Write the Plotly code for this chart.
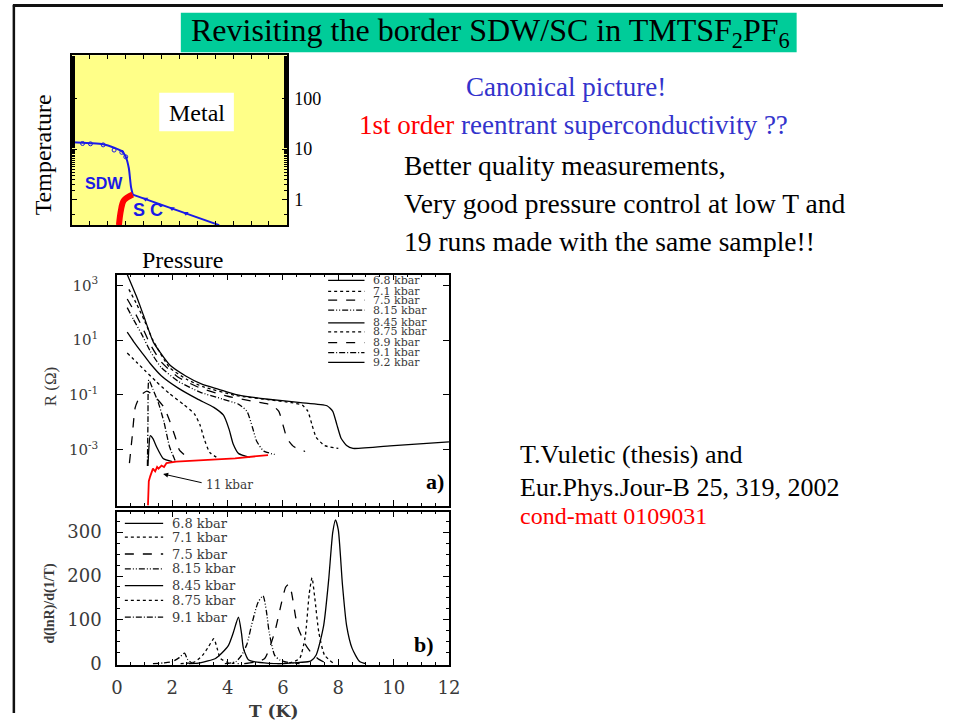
import plotly.graph_objects as go

W, H = 954, 722


def px(x):
    return x / W


def py(y):
    return 1 - y / H


SERIF = "Liberation Serif"
WIDE = "DejaVu Serif"
SANS = "Liberation Sans"
BLUE = "#1a1ae6"
TXT_BLUE = "#3333cc"
GREY = "#3a3a3a"

# ---------------- phase diagram (inset) ----------------
sdw_pts_P = [0, 0.6, 1.04, 1.75, 2.36, 2.79, 3.01]
sdw_pts_T = [13.5, 12.9, 12.7, 12.1, 9.55, 8.6, 7.0]
sdw_line_P = [0, 0.6, 1.04, 1.75, 2.36, 2.79, 3.01, 3.18, 3.3, 3.4]
sdw_line_T = [13.7, 13.4, 13.1, 12.4, 10.6, 9.0, 7.0, 4.2, 1.8, 1.25]
border_P = [3.4, 8.22]
border_T = [1.25, 0.31]
tri_P = [4.11, 5.59, 6.36]
tri_T = [1.02, 0.66, 0.53]
sc_P = [3.4, 2.9, 2.74, 2.63]
sc_T = [1.25, 0.955, 0.61, 0.31]

# ---------------- panel a: R(T) ----------------
pressures_a = ["6.8 kbar", "7.1 kbar", "7.5 kbar", "8.15 kbar", "8.45 kbar",
               "8.75 kbar", "8.9 kbar", "9.1 kbar", "9.2 kbar"]
dash_a = ["solid", "dot", "dash", "6px,2px,1px,2px,1px,2px", "solid",
          "dot", "dash", "6px,2px,1px,2px", "solid"]

T_68 = [0.37, 0.72, 0.96, 1.31, 1.9, 2.5, 3.09, 3.68, 4.27, 4.86, 5.46, 6.64, 7.59, 7.8, 7.95, 8.1, 8.3, 8.53, 10.0, 12.0]
R_68 = [2.5e3, 3.6e2, 8.0e1, 8.7e0, 1.26e0, 4.8e-1, 2.4e-1, 1.6e-1, 1.05e-1, 8.3e-2, 6.9e-2, 5.2e-2, 4.0e-2, 2.5e-2, 8e-3, 2.6e-3, 1.4e-3, 1.1e-3, 1.4e-3, 1.9e-3]
T_71 = [0.43, 0.7, 1.0, 1.3, 1.9, 2.5, 3.1, 4.3, 5.5, 6.3, 6.7, 6.9, 7.05, 7.2, 7.5, 8.0]
R_71 = [7.2e2, 2.2e2, 5.0e1, 1.0e1, 1.0e0, 3.8e-1, 2.0e-1, 9.5e-2, 6.6e-2, 5.2e-2, 4.2e-2, 2.5e-2, 8e-3, 2.8e-3, 1.4e-3, 1.1e-3]
T_75 = [0.37, 0.6, 0.9, 1.2, 1.6, 2.2, 3.0, 4.0, 5.0, 5.6, 5.85, 6.0, 6.15, 6.4, 6.8]
R_75 = [3.2e2, 1.26e2, 3.2e1, 7.1e0, 1.6e0, 4.5e-1, 1.8e-1, 8.9e-2, 5.6e-2, 4.2e-2, 2.5e-2, 8e-3, 2.5e-3, 1.26e-3, 8.5e-4]
T_815 = [0.37, 0.6, 0.9, 1.2, 1.6, 2.2, 3.0, 3.8, 4.4, 4.7, 4.9, 5.05, 5.3, 5.7]
R_815 = [1.55e2, 5.6e1, 1.6e1, 4.0e0, 1.0e0, 3.2e-1, 1.26e-1, 7.1e-2, 4.5e-2, 2.5e-2, 6.3e-3, 2.0e-3, 8.9e-4, 6.6e-4]
T_845 = [0.37, 0.6, 0.9, 1.2, 1.6, 2.2, 2.9, 3.5, 3.85, 4.05, 4.2, 4.4, 4.8]
R_845 = [1.95e1, 8.9e0, 3.5e0, 1.4e0, 5.0e-1, 1.8e-1, 7.1e-2, 3.5e-2, 1.8e-2, 5.6e-3, 1.6e-3, 7.1e-4, 5.2e-4]
T_875 = [0.37, 0.7, 1.0, 1.4, 1.9, 2.4, 2.8, 3.0, 3.15, 3.35, 3.7]
R_875 = [3.4e0, 1.6e0, 7.9e-1, 3.2e-1, 1.1e-1, 4.5e-2, 2.0e-2, 8.0e-3, 2.5e-3, 7.9e-4, 4.5e-4]
T_89 = [0.45, 0.55, 0.66, 0.84, 1.08, 1.4, 1.7, 1.9, 2.1, 2.26, 2.6]
R_89 = [3.2e-4, 3e-3, 3.5e-2, 9.1e-2, 1.38e-1, 8e-2, 3.5e-2, 1.15e-2, 3e-3, 9.5e-4, 4.7e-4]
T_91 = [1.1, 1.12, 1.15, 1.3, 1.5, 1.7, 1.9, 2.1]
R_91 = [2.5e-4, 1e-2, 3.5e-1, 1.6e-1, 5e-2, 1e-2, 1.26e-3, 4e-4]
T_92 = [1.12, 1.15, 1.2, 1.3, 1.43, 1.67, 2.0]
R_92 = [2.5e-4, 1e-3, 3.2e-3, 2.5e-3, 1.26e-3, 4.7e-4, 3.6e-4]
curves_a = [(T_68, R_68), (T_71, R_71), (T_75, R_75), (T_815, R_815), (T_845, R_845),
            (T_875, R_875), (T_89, R_89), (T_91, R_91), (T_92, R_92)]

T_11 = [1.12, 1.13, 1.15, 1.2, 1.25, 1.3, 1.38, 1.45, 1.5, 1.61, 1.7, 1.79, 2.14, 3.09, 4.27, 5.46]
R_11 = [8.9e-6, 3e-5, 7e-5, 1.05e-4, 1.4e-4, 2.0e-4, 1.6e-4, 2.3e-4, 2.0e-4, 2.6e-4, 2.3e-4, 3.2e-4, 3.6e-4, 4.2e-4, 4.8e-4, 6.3e-4]

# ---------------- panel b: d(lnR)/d(1/T) ----------------
pressures_b = ["6.8 kbar", "7.1 kbar", "7.5 kbar", "8.15 kbar", "8.45 kbar", "8.75 kbar", "9.1 kbar"]
dash_b = ["solid", "dot", "dash", "6px,2px,1px,2px,1px,2px", "solid", "dot", "6px,2px,1px,2px"]
Tb_68 = [6.0, 6.6, 7.0, 7.2, 7.47, 7.65, 7.8, 7.9, 8.0, 8.15, 8.3, 8.5, 8.77, 9.0]
Vb_68 = [0, 3, 6, 20, 87, 190, 300, 328, 305, 180, 87, 35, 5, 0]
Tb_71 = [5.8, 6.3, 6.6, 6.8, 6.95, 7.05, 7.15, 7.3, 7.5, 7.8]
Vb_71 = [0, 3, 12, 60, 160, 196, 150, 70, 20, 2]
Tb_75 = [4.6, 5.0, 5.34, 5.7, 5.95, 6.1, 6.2, 6.3, 6.52, 6.8, 7.0, 7.3, 7.6]
Vb_75 = [0, 4, 12, 72, 140, 175, 181, 165, 87, 45, 27, 10, 0]
Tb_815 = [3.9, 4.3, 4.5, 4.7, 4.86, 5.1, 5.28, 5.4, 5.5, 5.7, 5.9, 6.2, 6.6]
Vb_815 = [0, 5, 19, 45, 87, 140, 155, 120, 72, 19, 8, 3, 0]
Tb_845 = [2.6, 3.0, 3.56, 3.8, 4.03, 4.2, 4.39, 4.5, 4.57, 4.75, 5.0, 5.5, 6.0]
Vb_845 = [0, 2, 12, 25, 42, 70, 106, 70, 35, 9, 4, 1, 0]
Tb_875 = [2.3, 2.8, 3.09, 3.3, 3.5, 3.62, 3.74, 4.0, 4.4]
Vb_875 = [0, 4, 19, 38, 57, 35, 12, 3, 0]
Tb_91 = [1.3, 1.7, 2.0, 2.25, 2.44, 2.55, 2.7, 3.0]
Vb_91 = [0, 2, 5, 14, 24, 10, 2, 0]
curves_b = [(Tb_68, Vb_68), (Tb_71, Vb_71), (Tb_75, Vb_75), (Tb_815, Vb_815),
            (Tb_845, Vb_845), (Tb_875, Vb_875), (Tb_91, Vb_91)]

fig = go.Figure()

# inset traces
fig.add_trace(go.Scatter(x=sdw_line_P, y=sdw_line_T, mode="lines", line=dict(color=BLUE, width=2, shape="spline", smoothing=0.6),
                         xaxis="x3", yaxis="y3", showlegend=False, hoverinfo="skip"))
fig.add_trace(go.Scatter(x=sdw_pts_P, y=sdw_pts_T, mode="markers", marker=dict(symbol="circle-open", size=4, color=BLUE),
                         xaxis="x3", yaxis="y3", showlegend=False))
fig.add_trace(go.Scatter(x=border_P, y=border_T, mode="lines", line=dict(color=BLUE, width=2),
                         xaxis="x3", yaxis="y3", showlegend=False))
fig.add_trace(go.Scatter(x=tri_P, y=tri_T, mode="markers", marker=dict(symbol="triangle-down", size=5, color=BLUE),
                         xaxis="x3", yaxis="y3", showlegend=False))
fig.add_trace(go.Scatter(x=sc_P, y=sc_T, mode="lines", line=dict(color="#ff0000", width=6, shape="spline"),
                         xaxis="x3", yaxis="y3", showlegend=False))

# panel a traces
for (tt, rr), d in zip(curves_a, dash_a):
    fig.add_trace(go.Scatter(x=tt, y=rr, mode="lines", line=dict(color="black", width=1.3, dash=d, shape="spline", smoothing=0.5),
                             xaxis="x", yaxis="y", showlegend=False))
fig.add_trace(go.Scatter(x=T_11, y=R_11, mode="lines", line=dict(color="#ff0000", width=1.8),
                         xaxis="x", yaxis="y", showlegend=False))

# panel b traces
for (tt, vv), d in zip(curves_b, dash_b):
    fig.add_trace(go.Scatter(x=tt, y=vv, mode="lines", line=dict(color="black", width=1.3, dash=d, shape="spline", smoothing=0.6),
                             xaxis="x2", yaxis="y2", showlegend=False))

frame = dict(showline=True, linecolor="black", linewidth=1.5, mirror="allticks", ticks="inside",
             tickcolor="black", showgrid=False, zeroline=False)

fig.update_layout(
    width=W, height=H, margin=dict(l=0, r=0, t=0, b=0),
    paper_bgcolor="white", plot_bgcolor="rgba(0,0,0,0)",
    xaxis=dict(domain=[px(113), px(451)], range=[0, 12], anchor="y", dtick=2, ticklen=6,
               showticklabels=False, minor=dict(dtick=0.5, ticklen=3, ticks="inside", tickcolor="black"), **frame),
    yaxis=dict(domain=[py(512), py(278)], type="log", range=[-5.05, 3.4], anchor="x",
               tickvals=[1e-3, 1e-1, 1e1, 1e3],
               ticktext=["10<sup>-3</sup>", "10<sup>-1</sup>", "10<sup>1</sup>", "10<sup>3</sup>"],
               tickfont=dict(family=WIDE, size=15, color=GREY), ticklen=6, ticklabelstandoff=14, **frame),
    xaxis2=dict(domain=[px(113), px(451)], range=[0, 12], anchor="y2", dtick=2, ticklen=6,
                tickfont=dict(family=WIDE, size=18, color=GREY), ticklabelstandoff=6,
                minor=dict(dtick=0.5, ticklen=3, ticks="inside", tickcolor="black"), **frame),
    yaxis2=dict(domain=[py(673), py(518)], range=[-2, 347], anchor="x2", tickvals=[0, 100, 200, 300], ticklen=6,
                tickfont=dict(family=WIDE, size=18, color=GREY), ticklabelstandoff=10,
                minor=dict(dtick=25, ticklen=3, ticks="inside", tickcolor="black"), **frame),
    xaxis3=dict(domain=[px(67), px(286)], range=[0, 12], anchor="y3", dtick=1, ticklen=4,
                showticklabels=False, **frame),
    yaxis3=dict(domain=[py(228), py(56)], type="log", range=[-0.51, 2.86], anchor="x3", side="right",
                tickvals=[1, 10, 100], ticktext=["1", "10", "100"], ticklen=5, ticklabelstandoff=2,
                tickfont=dict(family=SERIF, size=18, color="black"),
                minor=dict(ticks="inside", ticklen=3, tickcolor="black"), **frame),
)

shapes = [
    # slide frame
    dict(type="line", xref="paper", yref="paper", x0=px(7), x1=px(954), y0=py(5.5), y1=py(5.5), line=dict(color="#111", width=3)),
    dict(type="line", xref="paper", yref="paper", x0=px(8), x1=px(8), y0=py(5), y1=py(722), line=dict(color="#111", width=2.5)),
    # title band
    dict(type="rect", xref="paper", yref="paper", x0=px(178), x1=px(805), y0=py(53), y1=py(13), fillcolor="#00cc99", line=dict(width=0)),
    # inset background
    dict(type="rect", xref="x3 domain", yref="y3 domain", x0=0, x1=1, y0=0, y1=1, fillcolor="#ffff88", line=dict(width=0), layer="below"),
    # Metal label box
    dict(type="rect", xref="paper", yref="paper", x0=px(156), x1=px(232), y0=py(133), y1=py(94), fillcolor="white", line=dict(width=0)),
]

annotations = [
    dict(text="Revisiting the border SDW/SC in TMTSF<sub>2</sub>PF<sub>6</sub>", x=px(493), y=py(33),
         font=dict(family=SERIF, size=32, color="black")),
    dict(text="Metal", x=px(194), y=py(114), font=dict(family=SERIF, size=24, color="black")),
    dict(text="<b>SDW</b>", x=px(100), y=py(186), font=dict(family=SANS, size=16, color=BLUE)),
    dict(text="<b>S C</b>", x=px(145), y=py(213), font=dict(family=SANS, size=18, color=BLUE)),
    dict(text="Temperature", x=px(38), y=py(157), textangle=-90, font=dict(family=SERIF, size=24, color="black")),
    dict(text="Pressure", x=px(180), y=py(263), font=dict(family=SERIF, size=24, color="black")),
    dict(text="Canonical picture!", x=px(570), y=py(88), font=dict(family=SERIF, size=27, color=TXT_BLUE)),
    dict(text='<span style="color:#ff0000">1st order</span> reentrant superconductivity ??', x=px(357), y=py(127),
         xanchor="left", font=dict(family=SERIF, size=27, color=TXT_BLUE)),
    dict(text="Better quality measurements,", x=px(403), y=py(168), xanchor="left", font=dict(family=SERIF, size=27.5, color="black")),
    dict(text="Very good pressure control at low T and", x=px(403), y=py(206), xanchor="left", font=dict(family=SERIF, size=27.5, color="black")),
    dict(text="19 runs made with the same sample!!", x=px(403), y=py(245), xanchor="left", font=dict(family=SERIF, size=27.5, color="black")),
    dict(text="T.Vuletic (thesis) and", x=px(521), y=py(460), xanchor="left", font=dict(family=SERIF, size=26, color="black")),
    dict(text="Eur.Phys.Jour-B 25, 319, 2002", x=px(521), y=py(494), xanchor="left", font=dict(family=SERIF, size=26, color="black")),
    dict(text="cond-matt 0109031", x=px(521), y=py(523), xanchor="left", font=dict(family=SERIF, size=24, color="#ff0000")),
    dict(text="R (\u03a9)", x=px(45), y=py(391), textangle=-90, font=dict(family=SERIF, size=17, color=GREY)),
    dict(text="<b>d(lnR)/d(1/T)</b>", x=px(45), y=py(611), textangle=-90, font=dict(family=SERIF, size=14, color=GREY)),
    dict(text="<b>T (K)</b>", x=px(272), y=py(708), yanchor="top", font=dict(family=WIDE, size=17, color=GREY)),
    dict(text="<b>a)</b>", x=px(437), y=py(488), font=dict(family=SERIF, size=22, color="black")),
    dict(text="<b>b)</b>", x=px(426), y=py(653), font=dict(family=SERIF, size=22, color="black")),
    # arrow pointing from the "11 kbar" label to the red curve
    dict(text="", x=px(160), y=py(480), ax=40, ay=9, axref="pixel", ayref="pixel", showarrow=True,
         arrowhead=2, arrowsize=1, arrowwidth=1, arrowcolor="black"),
    dict(text="11 kbar", x=px(202), y=py(491), xanchor="left", font=dict(family=WIDE, size=12, color=GREY)),
]

# legend panel a
leg_a_y = [284, 295, 304, 314, 327, 336, 347, 357, 367]
for name, d, yy in zip(pressures_a, dash_a, leg_a_y):
    shapes.append(dict(type="line", xref="paper", yref="paper", x0=px(328), x1=px(365), y0=py(yy), y1=py(yy),
                       line=dict(color="black", width=1.3, dash=d)))
    annotations.append(dict(text=name, x=px(372), y=py(yy), xanchor="left", font=dict(family=WIDE, size=11, color=GREY)))

# legend panel b
leg_b_y = [530, 544, 561, 576, 593, 608, 625]
for name, d, yy in zip(pressures_b, dash_b, leg_b_y):
    shapes.append(dict(type="line", xref="paper", yref="paper", x0=px(121), x1=px(160), y0=py(yy), y1=py(yy),
                       line=dict(color="black", width=1.3, dash=d)))
    annotations.append(dict(text=name, x=px(167), y=py(yy), xanchor="left", font=dict(family=WIDE, size=13, color=GREY)))

for a in annotations:
    a.setdefault("xref", "paper")
    a.setdefault("yref", "paper")
    a.setdefault("showarrow", False)
    a.setdefault("xanchor", "center")
    a.setdefault("yanchor", "middle")

fig.update_layout(shapes=shapes, annotations=annotations)
fig.write_html("out.html")
